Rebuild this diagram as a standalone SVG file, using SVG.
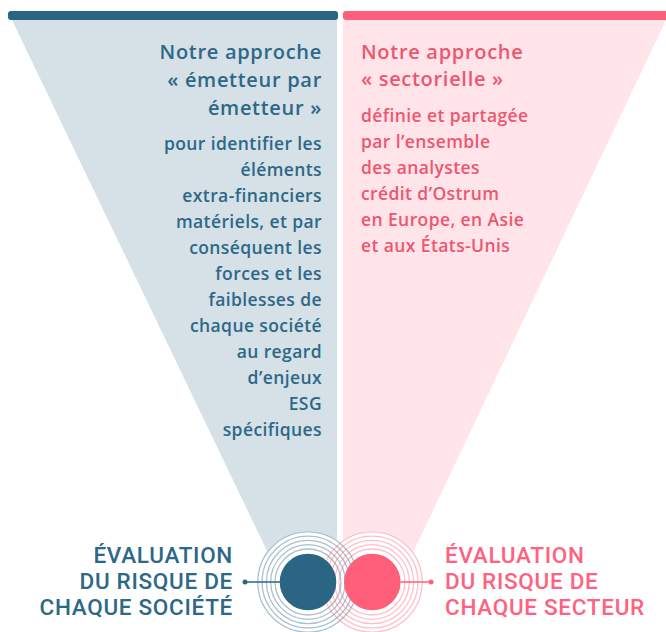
<svg xmlns="http://www.w3.org/2000/svg" width="666" height="632" viewBox="0 0 666 632">
<defs>
<style>
.hdL{font-family:"Open Sans","Noto Sans",sans-serif;font-weight:600;font-size:20px;letter-spacing:0.7px;fill:#2d6888;text-anchor:end}
.bdL{font-family:"Open Sans","Noto Sans",sans-serif;font-weight:600;font-size:17.5px;letter-spacing:0.4px;fill:#2d6888;text-anchor:end}
.hdR{font-family:"Open Sans","Noto Sans",sans-serif;font-weight:600;font-size:20px;letter-spacing:0.7px;fill:#ee5670}
.bdR{font-family:"Open Sans","Noto Sans",sans-serif;font-weight:600;font-size:17.5px;letter-spacing:0.4px;fill:#ee5670}
.lbL{font-family:Roboto,"Liberation Sans",sans-serif;font-weight:500;font-size:22.5px;letter-spacing:0.7px;fill:#2d6888;text-anchor:end}
.lbR{font-family:Roboto,"Liberation Sans",sans-serif;font-weight:500;font-size:22.5px;letter-spacing:0.7px;fill:#ff6280}
.ringL{fill:none;stroke:#2b6584;stroke-opacity:0.4;stroke-width:1.3}
.ringR{fill:none;stroke:#ff5f79;stroke-opacity:0.4;stroke-width:1.3}
</style>
<marker id="dotL" viewBox="0 0 6 6" refX="3" refY="3" markerWidth="6" markerHeight="6" markerUnits="userSpaceOnUse"><circle cx="3" cy="3" r="2.5" fill="#2b6584"/></marker>
<marker id="dotR" viewBox="0 0 6 6" refX="3" refY="3" markerWidth="6" markerHeight="6" markerUnits="userSpaceOnUse"><circle cx="3" cy="3" r="2.5" fill="#ff5f79"/></marker>
</defs>
<rect width="666" height="632" fill="#ffffff"/>

<g id="funnel-left">
<polygon points="12,20 337,20 337,582 282,582" fill="#d5e0e7"/>
<rect x="8" y="11" width="330" height="9" rx="3" fill="#2b6584"/>
</g>
<g id="funnel-right">
<polygon points="343,20 666,20 399,582 343,582" fill="#ffe4e9"/>
<rect x="343" y="11" width="330" height="9" rx="3" fill="#ff5f79"/>
</g>

<g id="text-left">
<text class="hdL" x="322" y="59">Notre approche</text>
<text class="hdL" x="322" y="87">« émetteur par</text>
<text class="hdL" x="322" y="115">émetteur »</text>
<text class="bdL" x="322" y="150">pour identifier les</text>
<text class="bdL" x="322" y="176">éléments</text>
<text class="bdL" x="322" y="202">extra-financiers</text>
<text class="bdL" x="322" y="228">matériels, et par</text>
<text class="bdL" x="322" y="254">conséquent les</text>
<text class="bdL" x="322" y="280">forces et les</text>
<text class="bdL" x="322" y="306">faiblesses de</text>
<text class="bdL" x="322" y="332">chaque société</text>
<text class="bdL" x="322" y="358">au regard</text>
<text class="bdL" x="322" y="384">d’enjeux</text>
<text class="bdL" x="322" y="410">ESG</text>
<text class="bdL" x="322" y="436">spécifiques</text>
</g>

<g id="text-right">
<text class="hdR" x="361" y="59">Notre approche</text>
<text class="hdR" x="361" y="86">« sectorielle »</text>
<text class="bdR" x="361" y="122">définie et partagée</text>
<text class="bdR" x="361" y="148">par l’ensemble</text>
<text class="bdR" x="361" y="174">des analystes</text>
<text class="bdR" x="361" y="200">crédit d’Ostrum</text>
<text class="bdR" x="361" y="226">en Europe, en Asie</text>
<text class="bdR" x="361" y="252">et aux États-Unis</text>
</g>

<g id="backdrops">
<circle cx="308" cy="582" r="51" fill="#ffffff"/>
<circle cx="372" cy="582" r="51" fill="#ffffff"/>
</g>

<g id="node-societe">
<circle class="ringL" cx="308" cy="582" r="33"/>
<circle class="ringL" cx="308" cy="582" r="37.3"/>
<circle class="ringL" cx="308" cy="582" r="41.6"/>
<circle class="ringL" cx="308" cy="582" r="45.9"/>
<circle class="ringL" cx="308" cy="582" r="50.2"/>
</g>
<g id="node-secteur">
<circle class="ringR" cx="372" cy="582" r="33"/>
<circle class="ringR" cx="372" cy="582" r="37.3"/>
<circle class="ringR" cx="372" cy="582" r="41.6"/>
<circle class="ringR" cx="372" cy="582" r="45.9"/>
<circle class="ringR" cx="372" cy="582" r="50.2"/>
</g>
<g id="dots">
<circle cx="308" cy="582" r="28.3" fill="#2b6584"/>
<circle cx="372.3" cy="582" r="28.3" fill="#ff5f79"/>
</g>

<g id="connectors">
<line x1="280" y1="582" x2="245" y2="582" stroke="#2b6584" stroke-width="1.5" marker-end="url(#dotL)"/>
<line x1="400.5" y1="582" x2="431" y2="582" stroke="#ff5f79" stroke-width="1.5" marker-end="url(#dotR)"/>
</g>

<g id="label-societe">
<text class="lbL" x="233" y="563">ÉVALUATION</text>
<text class="lbL" x="233" y="589">DU RISQUE DE</text>
<text class="lbL" x="233" y="615">CHAQUE SOCIÉTÉ</text>
</g>
<g id="label-secteur">
<text class="lbR" x="445" y="563">ÉVALUATION</text>
<text class="lbR" x="445" y="589">DU RISQUE DE</text>
<text class="lbR" x="445" y="615">CHAQUE SECTEUR</text>
</g>
</svg>
